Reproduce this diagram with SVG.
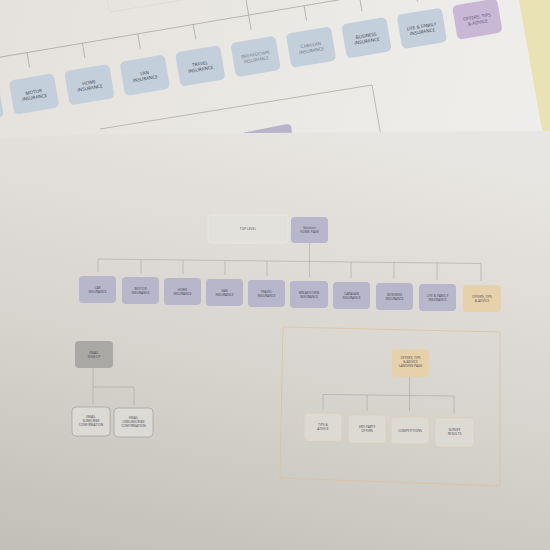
<svg xmlns="http://www.w3.org/2000/svg" width="550" height="550" viewBox="0 0 550 550">
<defs>
<linearGradient id="gTop" x1="0" y1="0" x2="1" y2="0.3">
<stop offset="0" stop-color="#e5e1dc"/>
<stop offset="0.6" stop-color="#ebeae6"/>
<stop offset="1" stop-color="#efeeec"/>
</linearGradient>
<linearGradient id="gFront" gradientUnits="userSpaceOnUse" x1="300" y1="120" x2="200" y2="580">
<stop offset="0" stop-color="#e8e6e2"/>
<stop offset="0.2" stop-color="#e2dfda"/>
<stop offset="0.55" stop-color="#d7d4ce"/>
<stop offset="1" stop-color="#c3c0b9"/>
</linearGradient>
<style>
.tb{fill:#c3cfda}
.tp{fill:#c8b7d5}
.tt{font-family:"Open Sans","Liberation Sans",sans-serif;font-size:4.6px;fill:#3c414b;text-anchor:middle}
.ttp{fill:#5b4a7c}
.ln{fill:none;stroke:#9a9891;stroke-width:0.6}
.fl{fill:none;stroke:#a4a29c;stroke-width:0.55}
.lav{fill:#b7b6ca}
.pe{fill:#e7d1aa}
.gr{fill:#a9a8a4}
.wb{fill:#dcdad4;stroke:#908f8b;stroke-width:0.55}
.ob{fill:#dddad3;stroke:#dfcbae;stroke-width:0.6}
.ft{font-family:"Open Sans","Liberation Sans",sans-serif;font-size:3.3px;fill:#4a4a55;text-anchor:middle}
</style>
</defs>
<rect width="550" height="550" fill="url(#gTop)"/>
<polygon points="519,0 550,0 550,138 542,130" fill="#e8e2b4"/>

<!-- back sheet (rotated) -->
<g id="back-sheet" transform="translate(34,94) rotate(-9.6)">
<rect x="88" y="-122" width="125" height="54" rx="3" fill="none" stroke="#dad8d2" stroke-width="0.6"/>
<g id="back-connectors" class="ln">
<line x1="-56.2" y1="-42" x2="460" y2="-42"/>
<line x1="224.8" y1="-200" x2="224.8" y2="-42"/>
<line x1="-56.2" y1="-42" x2="-56.2" y2="-27"/>
<line x1="0" y1="-42" x2="0" y2="-27"/>
<line x1="56.2" y1="-42" x2="56.2" y2="-27"/>
<line x1="112.4" y1="-42" x2="112.4" y2="-27"/>
<line x1="168.6" y1="-42" x2="168.6" y2="-27"/>
<line x1="224.8" y1="-42" x2="224.8" y2="-27"/>
<line x1="281" y1="-42" x2="281" y2="-27"/>
<line x1="337.2" y1="-42" x2="337.2" y2="-27"/>
<line x1="393.4" y1="-42" x2="393.4" y2="-27"/>
<line x1="449.6" y1="-42" x2="449.6" y2="-27"/>
</g>
<g id="b-car"><rect class="tb" x="-78.95" y="-17.25" width="45.5" height="34.5" rx="5"/></g>
<g id="b-motor"><rect class="tb" x="-22.75" y="-17.25" width="45.5" height="34.5" rx="5"/><text class="tt" x="0" y="-0.5">MOTOR</text><text class="tt" x="0" y="5">INSURANCE</text></g>
<g id="b-home"><rect class="tb" x="33.45" y="-17.25" width="45.5" height="34.5" rx="5"/><text class="tt" x="56.2" y="-0.5">HOME</text><text class="tt" x="56.2" y="5">INSURANCE</text></g>
<g id="b-van"><rect class="tb" x="89.65" y="-17.25" width="45.5" height="34.5" rx="5"/><text class="tt" x="112.4" y="-0.5">VAN</text><text class="tt" x="112.4" y="5">INSURANCE</text></g>
<g id="b-travel"><rect class="tb" x="145.85" y="-17.25" width="45.5" height="34.5" rx="5"/><text class="tt" x="168.6" y="-0.5">TRAVEL</text><text class="tt" x="168.6" y="5">INSURANCE</text></g>
<g id="b-breakdown"><rect class="tb" x="202.05" y="-17.25" width="45.5" height="34.5" rx="5"/><text class="tt" x="224.8" y="-0.5" fill-opacity="0.6">BREAKDOWN</text><text class="tt" x="224.8" y="5" fill-opacity="0.6">INSURANCE</text></g>
<g id="b-caravan"><rect class="tb" x="258.25" y="-17.25" width="45.5" height="34.5" rx="5"/><text class="tt" x="281" y="-0.5" fill-opacity="0.7">CARAVAN</text><text class="tt" x="281" y="5" fill-opacity="0.7">INSURANCE</text></g>
<g id="b-business"><rect class="tb" x="314.45" y="-17.25" width="45.5" height="34.5" rx="5"/><text class="tt" x="337.2" y="-0.5">BUSINESS</text><text class="tt" x="337.2" y="5">INSURANCE</text></g>
<g id="b-life"><rect class="tb" x="370.65" y="-17.25" width="45.5" height="34.5" rx="5"/><text class="tt" x="393.4" y="-0.5">LIFE &amp; FAMILY</text><text class="tt" x="393.4" y="5">INSURANCE</text></g>
<g id="b-offers"><rect class="tp" x="426.85" y="-17.25" width="45.5" height="34.5" rx="5"/><text class="tt ttp" x="449.6" y="-0.5">OFFERS, TIPS</text><text class="tt ttp" x="449.6" y="5">&amp; ADVICE</text></g>
</g>

<!-- middle sheet fragments -->
<g id="middle-sheet">
<polyline class="ln" points="100,129 372,85 381,136"/>
<path d="M244,134 L244,132.5 L285,124.5 Q291,123.5 291.5,128 L292,134 Z" fill="#b9b3cb"/>
</g>

<!-- front sheet -->
<polygon points="0,138 97,134 550,131 550,550 0,550" fill="url(#gFront)"/>

<g id="connectors">
<polyline class="fl" points="98,259 481,263.5"/>
<line class="fl" x1="309.5" y1="243" x2="309.5" y2="261.5"/>
<line class="fl" x1="98" y1="259" x2="98" y2="272"/>
<line class="fl" x1="141" y1="259.5" x2="141" y2="273"/>
<line class="fl" x1="183" y1="260" x2="183" y2="274"/>
<line class="fl" x1="225" y1="260.5" x2="225" y2="275"/>
<line class="fl" x1="267" y1="261" x2="267" y2="276"/>
<line class="fl" x1="309.5" y1="261.5" x2="309.5" y2="277"/>
<line class="fl" x1="351" y1="262" x2="351" y2="278"/>
<line class="fl" x1="394" y1="262.5" x2="394" y2="279"/>
<line class="fl" x1="437" y1="263" x2="437" y2="280"/>
<line class="fl" x1="481" y1="263.5" x2="481" y2="281"/>
<polyline class="fl" points="93,368 93,404"/>
<polyline class="fl" points="93,387 134,387 134,405"/>
<line class="fl" x1="409.5" y1="377" x2="409.5" y2="411"/>
<polyline class="fl" points="323,409 323,394.5 454,396 454,413"/>
<line class="fl" x1="367" y1="395" x2="367" y2="411"/>
</g>

<g id="top-level"><rect x="208" y="215" width="80" height="28" rx="3" fill="#e3e1dc" stroke="#eae8e3" stroke-width="0.8"/><text class="ft" x="248" y="230">TOP LEVEL</text></g>
<g id="home-page"><rect class="lav" x="291" y="217" width="37" height="26" rx="4"/><text class="ft" x="309.5" y="228.5">Swinton</text><text class="ft" x="309.5" y="233">HOME PAGE</text></g>

<g id="f-car"><rect class="lav" x="79" y="276" width="37" height="27" rx="4"/><text class="ft" x="97.5" y="288.5">CAR</text><text class="ft" x="97.5" y="292.5">INSURANCE</text></g>
<g id="f-motor"><rect class="lav" x="122" y="277" width="37" height="27" rx="4"/><text class="ft" x="140.5" y="289.5">MOTOR</text><text class="ft" x="140.5" y="293.5">INSURANCE</text></g>
<g id="f-home"><rect class="lav" x="164" y="278" width="37" height="27" rx="4"/><text class="ft" x="182.5" y="290.5">HOME</text><text class="ft" x="182.5" y="294.5">INSURANCE</text></g>
<g id="f-van"><rect class="lav" x="206" y="279" width="37" height="27" rx="4"/><text class="ft" x="224.5" y="291.5">VAN</text><text class="ft" x="224.5" y="295.5">INSURANCE</text></g>
<g id="f-travel"><rect class="lav" x="248" y="280" width="37" height="27" rx="4"/><text class="ft" x="266.5" y="292.5">TRAVEL</text><text class="ft" x="266.5" y="296.5">INSURANCE</text></g>
<g id="f-breakdown"><rect class="lav" x="290" y="281" width="38" height="27" rx="4"/><text class="ft" x="309" y="293.5">BREAKDOWN</text><text class="ft" x="309" y="297.5">INSURANCE</text></g>
<g id="f-caravan"><rect class="lav" x="333" y="282" width="37" height="27" rx="4"/><text class="ft" x="351.5" y="294.5">CARAVAN</text><text class="ft" x="351.5" y="298.5">INSURANCE</text></g>
<g id="f-business"><rect class="lav" x="376" y="283" width="37" height="27" rx="4"/><text class="ft" x="394.5" y="295.5">BUSINESS</text><text class="ft" x="394.5" y="299.5">INSURANCE</text></g>
<g id="f-life"><rect class="lav" x="419" y="284" width="37" height="27" rx="4"/><text class="ft" x="437.5" y="296.5">LIFE &amp; FAMILY</text><text class="ft" x="437.5" y="300.5">INSURANCE</text></g>
<g id="f-offers"><rect class="pe" x="463" y="285" width="38" height="27" rx="4"/><text class="ft" x="482" y="297.5" fill="#6b5e4a">OFFERS, TIPS</text><text class="ft" x="482" y="301.5" fill="#6b5e4a">&amp; ADVICE</text></g>

<g id="email-signup"><rect class="gr" x="75" y="341" width="38" height="27" rx="4"/><text class="ft" x="94" y="353.5" fill="#2f2f33">EMAIL</text><text class="ft" x="94" y="357.5" fill="#2f2f33">SIGN UP</text></g>
<g id="email-sub"><rect class="wb" x="72" y="407" width="38" height="29" rx="4"/><text class="ft" x="91" y="418">EMAIL</text><text class="ft" x="91" y="422">SUBSCRIBE</text><text class="ft" x="91" y="426">CONFIRMATION</text></g>
<g id="email-unsub"><rect class="wb" x="114" y="408" width="39" height="29" rx="4"/><text class="ft" x="133.5" y="419">EMAIL</text><text class="ft" x="133.5" y="423">UNSUBSCRIBE</text><text class="ft" x="133.5" y="427">CONFIRMATION</text></g>

<g id="offers-section"><polygon points="283,327 500,332 500,486 280,478" fill="none" stroke="#dcc29c" stroke-width="0.8"/></g>
<g id="landing"><rect class="pe" x="392" y="349" width="37" height="28" rx="4"/><text class="ft" x="410.5" y="359" fill="#5f5547">OFFERS, TIPS</text><text class="ft" x="410.5" y="363" fill="#5f5547">&amp; ADVICE</text><text class="ft" x="410.5" y="367" fill="#5f5547">LANDING PAGE</text></g>
<g id="tips"><rect class="ob" x="304" y="413" width="38" height="28" rx="4"/><text class="ft" x="323" y="426">TIPS &amp;</text><text class="ft" x="323" y="430">ADVICE</text></g>
<g id="third-party"><rect class="ob" x="348" y="415" width="38" height="28" rx="4"/><text class="ft" x="367" y="428">3RD PARTY</text><text class="ft" x="367" y="432">OFFERS</text></g>
<g id="competitions"><rect class="ob" x="391" y="417" width="38" height="27" rx="4"/><text class="ft" x="410" y="432">COMPETITIONS</text></g>
<g id="survey"><rect class="ob" x="435" y="418" width="39" height="29" rx="4"/><text class="ft" x="454.5" y="431">SURVEY</text><text class="ft" x="454.5" y="435">RESULTS</text></g>
</svg>
